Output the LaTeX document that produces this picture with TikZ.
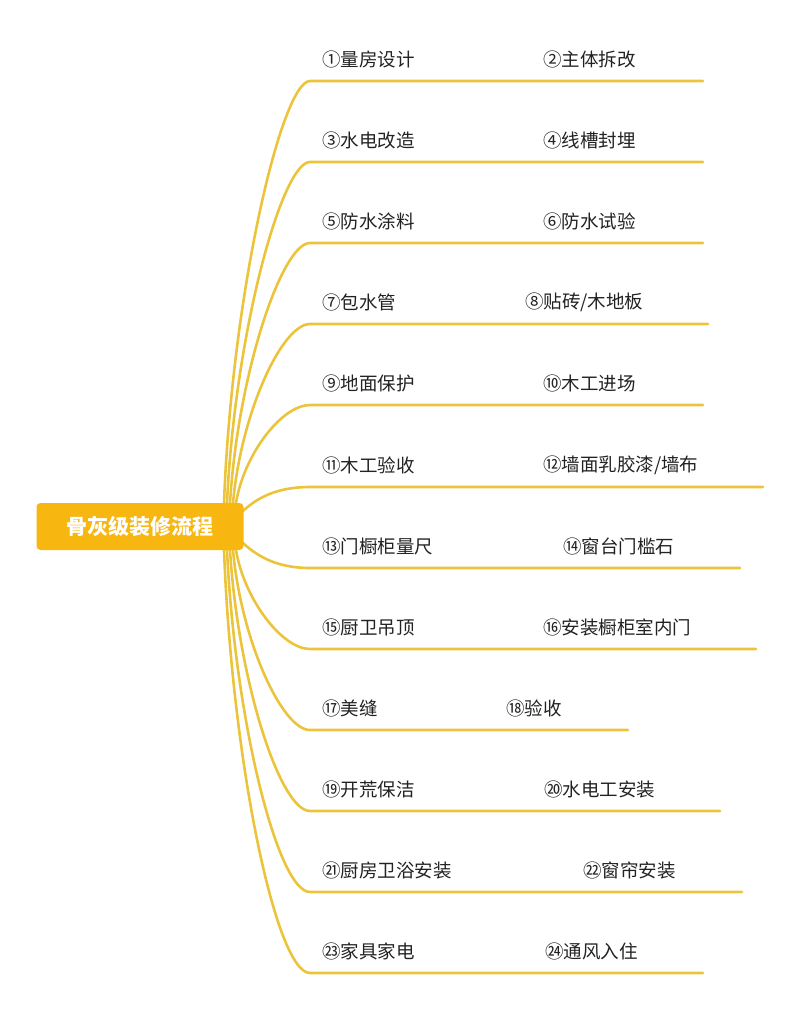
\documentclass[tikz,border=0pt]{standalone}
\usepackage{fontspec}
\newfontfamily\cjk{Noto Sans CJK SC}
\usetikzlibrary{backgrounds}
\definecolor{boxc}{RGB}{247,182,16}
\definecolor{linec}{RGB}{236,196,60}
\definecolor{txtc}{RGB}{34,34,34}
\begin{document}
\begin{tikzpicture}[x=1pt,y=-1pt,
  branch/.style={draw=linec,line width=2.6pt,line cap=round},
  lbl/.style={anchor=west,inner sep=0pt,font=\cjk\fontsize{18.5}{18.5}\selectfont,text=txtc},
  root/.style={fill=boxc,rounded corners=4pt,minimum width=207pt,minimum height=47pt,inner sep=0pt,text=white,font=\cjk\bfseries\fontsize{21}{21}\selectfont}]
\useasboundingbox (0,0) rectangle (800,1010);
\node[root] (root) at (140,526.5) {骨灰级装修流程};

% labels
\node[lbl] (t1)  at (322,59)  {①量房设计};
\node[lbl] (t2)  at (543,59)  {②主体拆改};
\node[lbl] (t3)  at (322,140) {③水电改造};
\node[lbl] (t4)  at (543,140) {④线槽封埋};
\node[lbl] (t5)  at (322,221) {⑤防水涂料};
\node[lbl] (t6)  at (543,221) {⑥防水试验};
\node[lbl] (t7)  at (322,302) {⑦包水管};
\node[lbl] (t8)  at (525,302) {⑧贴砖/木地板};
\node[lbl] (t9)  at (322,383) {⑨地面保护};
\node[lbl] (t10) at (543,383) {⑩木工进场};
\node[lbl] (t11) at (322,465) {⑪木工验收};
\node[lbl] (t12) at (543,465) {⑫墙面乳胶漆/墙布};
\node[lbl] (t13) at (322,546) {⑬门橱柜量尺};
\node[lbl] (t14) at (563,546) {⑭窗台门槛石};
\node[lbl] (t15) at (322,627) {⑮厨卫吊顶};
\node[lbl] (t16) at (543,627) {⑯安装橱柜室内门};
\node[lbl] (t17) at (322,708) {⑰美缝};
\node[lbl] (t18) at (506,708) {⑱验收};
\node[lbl] (t19) at (322,789) {⑲开荒保洁};
\node[lbl] (t20) at (544,789) {⑳水电工安装};
\node[lbl] (t21) at (322,870) {㉑厨房卫浴安装};
\node[lbl] (t22) at (583,870) {㉒窗帘安装};
\node[lbl] (t23) at (322,951) {㉓家具家电};
\node[lbl] (t24) at (545,951) {㉔通风入住};

\begin{pgfonlayer}{background}
\foreach \i/\sx/\sy/\ax/\ay/\bx/\y/\ex in {
  1/224/503/232/292/282/81/703,
  2/227/503/235/332/282/162/703,
  3/230/503/238/373/282/243/703,
  4/233/503/241/413/282/324/708,
  5/236/503/244/454/282/405/703,
  6/243/511/258/497/278/487/763,
  7/243/543/258/557/278/568/740,
  8/236/550/244/599/282/649/756,
  9/233/550/241/640/282/730/628,
  10/230/550/238/680/280/811/720,
  11/227/550/235/721/278/892/742,
  12/224/550/232/761/276/973/703}{
  \coordinate (s\i) at (\sx,\sy);
  \coordinate (b\i) at (310,\y);
  \coordinate (e\i) at (\ex,\y);
  \draw[branch] (s\i) .. controls (\ax,\ay) and (\bx,\y) .. (b\i) -- (e\i);
}
\end{pgfonlayer}
\end{tikzpicture}
\end{document}
